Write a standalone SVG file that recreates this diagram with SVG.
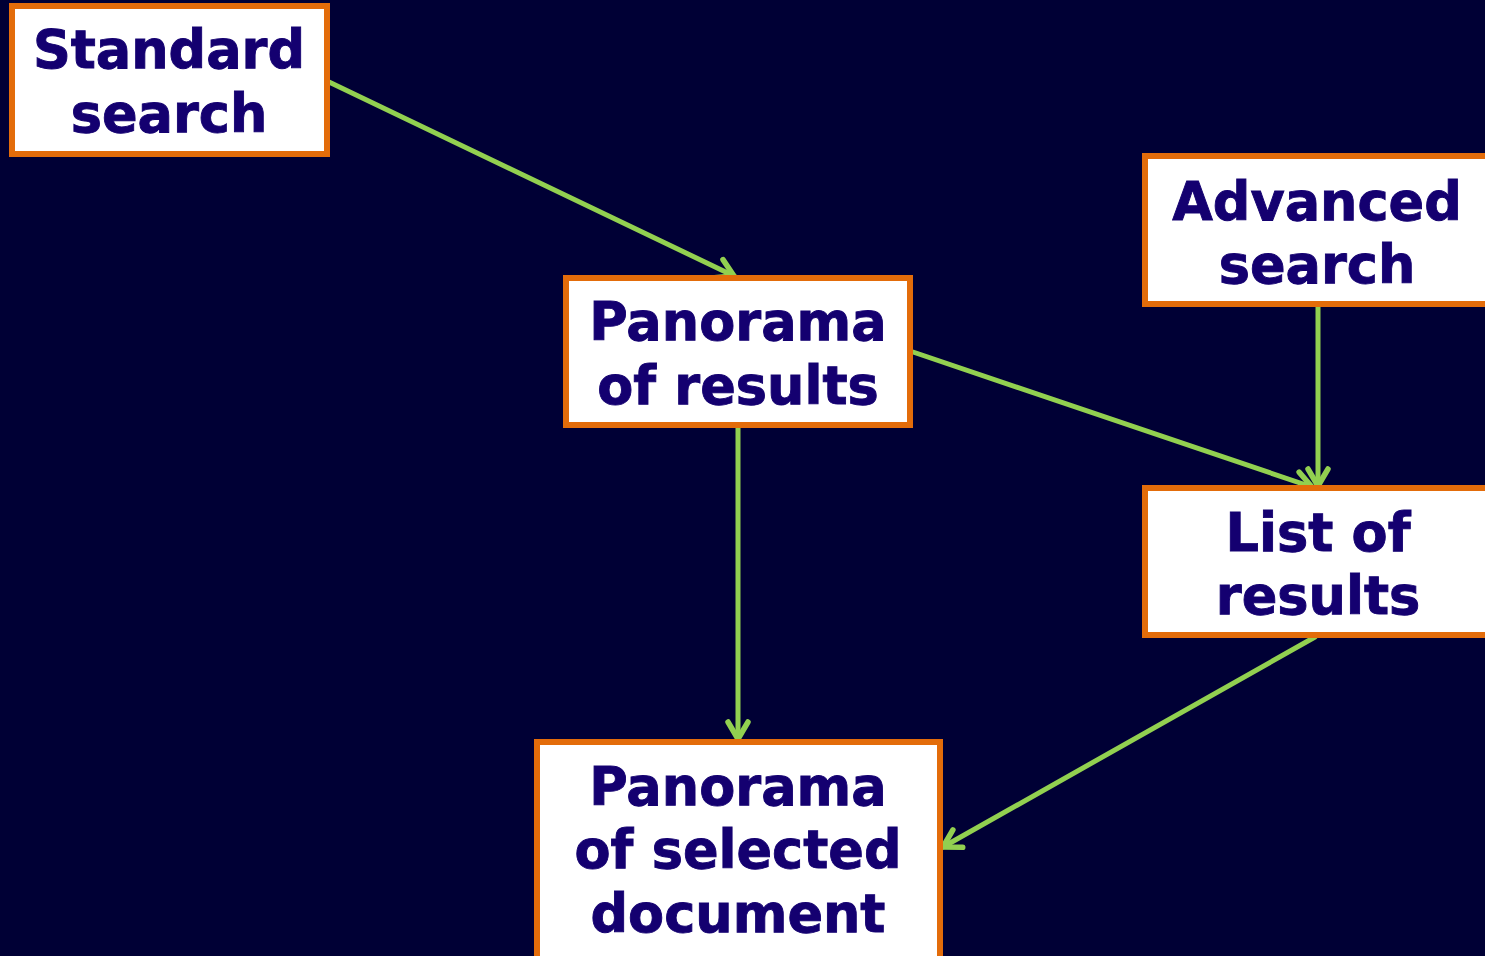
<svg xmlns="http://www.w3.org/2000/svg" width="1485" height="956" viewBox="0 0 1485 956">
<style>
.box{fill:#ffffff;stroke:#e36c0a;stroke-width:6}
.lbl{font-family:"DejaVu Sans","Verdana",sans-serif;font-weight:bold;font-size:52.5px;fill:#140070;stroke:#140070;stroke-width:0.9;text-anchor:middle}
.edge{fill:none;stroke:#92d050;stroke-width:5;stroke-linecap:round}
</style>
<defs>
<marker id="arr" markerUnits="userSpaceOnUse" markerWidth="40" markerHeight="40" viewBox="-20 -20 40 40" refX="0" refY="0" orient="auto">
<path d="M-17,-10 L0,0 L-17,10" fill="none" stroke="#92d050" stroke-width="5.5" stroke-linecap="round" stroke-linejoin="round"/>
</marker>
</defs>
<rect width="1485" height="956" fill="#000035"/>
<g id="connectors">
<line class="edge" x1="329" y1="82" x2="734" y2="276" marker-end="url(#arr)"/>
<line class="edge" x1="913" y1="352" x2="1312" y2="487" marker-end="url(#arr)"/>
<line class="edge" x1="1318" y1="307" x2="1318" y2="486" marker-end="url(#arr)"/>
<line class="edge" x1="738" y1="428" x2="738" y2="739" marker-end="url(#arr)"/>
<line class="edge" x1="1315" y1="637" x2="943" y2="847" marker-end="url(#arr)"/>
</g>
<g id="standard-search">
<rect class="box" x="12" y="6" width="315" height="148"/>
<text class="lbl" x="169" y="68">Standard</text>
<text class="lbl" x="169" y="132">search</text>
</g>
<g id="panorama-results">
<rect class="box" x="566" y="278" width="344" height="147"/>
<text class="lbl" x="738" y="340">Panorama</text>
<text class="lbl" x="738" y="404">of results</text>
</g>
<g id="advanced-search">
<rect class="box" x="1145" y="156" width="345" height="148"/>
<text class="lbl" x="1317" y="220">Advanced</text>
<text class="lbl" x="1317" y="283">search</text>
</g>
<g id="list-results">
<rect class="box" x="1145" y="488" width="345" height="147"/>
<text class="lbl" x="1318" y="551">List of</text>
<text class="lbl" x="1318" y="614">results</text>
</g>
<g id="panorama-selected">
<rect class="box" x="537" y="742" width="403" height="224"/>
<text class="lbl" x="738" y="805">Panorama</text>
<text class="lbl" x="738" y="868">of selected</text>
<text class="lbl" x="738" y="932">document</text>
</g>
</svg>
